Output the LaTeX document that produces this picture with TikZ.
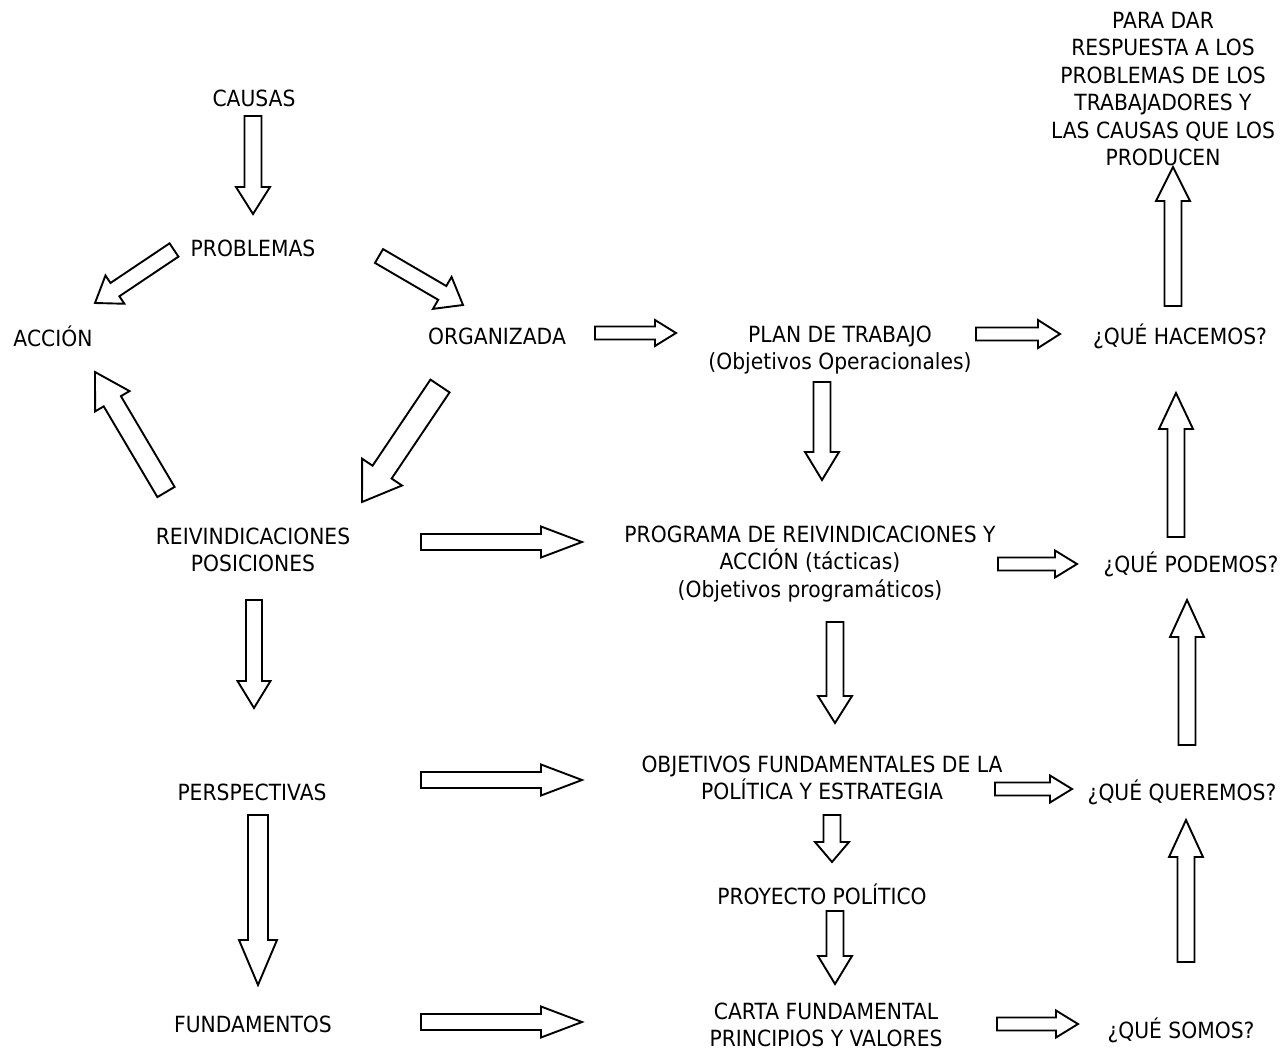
\documentclass[tikz,border=0pt]{standalone}
\usepackage{fontspec}
\setmainfont{DejaVu Sans}[FakeStretch=0.91]
\usetikzlibrary{calc}
\tikzset{
  lbl/.style={inner sep=0pt, align=center, font=\fontsize{22.3}{27.5}\selectfont},
  fshaft/.store in=\fshaft, fhead/.store in=\fhead, ftip/.store in=\ftip,
  fshaft=8.5, fhead=17, ftip=27,
  fatline/.style={draw, line width=1.9pt, fill=white, line join=miter}
}
\newcommand{\fatarrow}[3][]{%
  \begin{scope}[#1]
    \path (#2) coordinate (fs) (#3) coordinate (ft);
    \path ($(ft)!\ftip pt!(fs)$) coordinate (fb);
    \draw[fatline] ($(fs)!\fshaft pt!90:(ft)$) -- ($(fb)!\fshaft pt!-90:(fs)$)
      -- ($(fb)!\fhead pt!-90:(fs)$) -- (ft) -- ($(fb)!\fhead pt!90:(fs)$)
      -- ($(fb)!\fshaft pt!90:(fs)$) -- ($(fs)!\fshaft pt!-90:(ft)$) -- cycle;
  \end{scope}}
\begin{document}
\begin{tikzpicture}[x=1pt, y=-1pt]
    \useasboundingbox (0,0) rectangle (1287,1051);
    \node[lbl] (causas) at (254,98) {CAUSAS};
    \node[lbl] (problemas) at (253,248) {PROBLEMAS};
    \node[lbl] (accion) at (53,336) {ACCIÓN};
    \node[lbl] (organizada) at (497,336) {ORGANIZADA};
    \node[lbl] (plan) at (840,350) {PLAN DE TRABAJO\\(Objetivos Operacionales)};
    \node[lbl] (hacemos) at (1180,336) {¿QUÉ HACEMOS?};
    \node[lbl] (paradar) at (1163,89) {PARA DAR\\RESPUESTA A LOS\\PROBLEMAS DE LOS\\TRABAJADORES Y\\LAS CAUSAS QUE LOS\\PRODUCEN};
    \node[lbl] (reiv) at (253,550) {REIVINDICACIONES\\POSICIONES};
    \node[lbl] (programa) at (810,564) {PROGRAMA DE REIVINDICACIONES Y\\ACCIÓN (tácticas)\\(Objetivos programáticos)};
    \node[lbl] (podemos) at (1191,564) {¿QUÉ PODEMOS?};
    \node[lbl] (perspectivas) at (252,792) {PERSPECTIVAS};
    \node[lbl] (objetivos) at (822,778) {OBJETIVOS FUNDAMENTALES DE LA\\POLÍTICA Y ESTRATEGIA};
    \node[lbl] (queremos) at (1182,792) {¿QUÉ QUEREMOS?};
    \node[lbl] (proyecto) at (822,894) {PROYECTO POLÍTICO};
    \node[lbl] (fundamentos) at (253,1024) {FUNDAMENTOS};
    \node[lbl] (carta) at (826,1025) {CARTA FUNDAMENTAL\\PRINCIPIOS Y VALORES};
    \node[lbl] (somos) at (1181,1030) {¿QUÉ SOMOS?};
    \fatarrow{$(causas)+(-1,18)$}{$(problemas)+(0,-34)$}
    \fatarrow[fshaft=8, fhead=17, ftip=24]{$(problemas)+(-79,2)$}{$(accion)+(42,-33)$}
    \fatarrow[fshaft=8, fhead=18.5, ftip=24]{$(problemas)+(126,8)$}{$(organizada)+(-34,-31)$}
    \fatarrow[fshaft=11.5, fhead=24, ftip=36]{$(organizada)+(-57,50)$}{$(reiv)+(109,-48)$}
    \fatarrow[fshaft=10, fhead=20, ftip=34]{$(reiv)+(-87,-58)$}{$(accion)+(42,36)$}
    \fatarrow[fshaft=6.5, fhead=13, ftip=21]{$(organizada)+(98,-3)$}{$(plan)+(-164,-17)$}
    \fatarrow[fshaft=6.5, fhead=14, ftip=22]{$(plan)+(136,-16)$}{$(hacemos)+(-120,-2)$}
    \fatarrow[ftip=28]{$(plan)+(-18,32)$}{$(programa)+(12,-84)$}
    \fatarrow[ftip=34]{$(hacemos)+(-7,-30)$}{$(paradar)+(10,78)$}
    \fatarrow[fshaft=8, fhead=15.5, ftip=41]{$(reiv)+(168,-8)$}{$(programa)+(-228,-22)$}
    \fatarrow[fshaft=6.5, fhead=13.5, ftip=22]{$(programa)+(188,0)$}{$(podemos)+(-114,0)$}
    \fatarrow[ftip=36]{$(podemos)+(-15,-27)$}{$(hacemos)+(-4,57)$}
    \fatarrow[fshaft=8, fhead=16.5]{$(reiv)+(1,50)$}{$(perspectivas)+(2,-84)$}
    \fatarrow{$(programa)+(25,58)$}{$(objetivos)+(13,-55)$}
    \fatarrow[fshaft=8, fhead=15.5, ftip=41]{$(perspectivas)+(169,-12)$}{$(objetivos)+(-240,2)$}
    \fatarrow[fshaft=6.5, fhead=13.5, ftip=22]{$(objetivos)+(173,11)$}{$(queremos)+(-110,-3)$}
    \fatarrow[ftip=37]{$(queremos)+(5,-47)$}{$(podemos)+(-4,36)$}
    \fatarrow[ftip=20]{$(objetivos)+(10,37)$}{$(proyecto)+(10,-32)$}
    \fatarrow[fshaft=10, fhead=19, ftip=45]{$(perspectivas)+(6,23)$}{$(fundamentos)+(5,-39)$}
    \fatarrow[ftip=28]{$(proyecto)+(13,17)$}{$(carta)+(9,-41)$}
    \fatarrow[fshaft=8, fhead=15.5, ftip=41]{$(fundamentos)+(168,-2)$}{$(carta)+(-244,-3)$}
    \fatarrow[fshaft=6.5, fhead=13.5, ftip=22]{$(carta)+(171,-1)$}{$(somos)+(-103,-6)$}
    \fatarrow[ftip=37]{$(somos)+(5,-68)$}{$(queremos)+(4,28)$}
\end{tikzpicture}
\end{document}
